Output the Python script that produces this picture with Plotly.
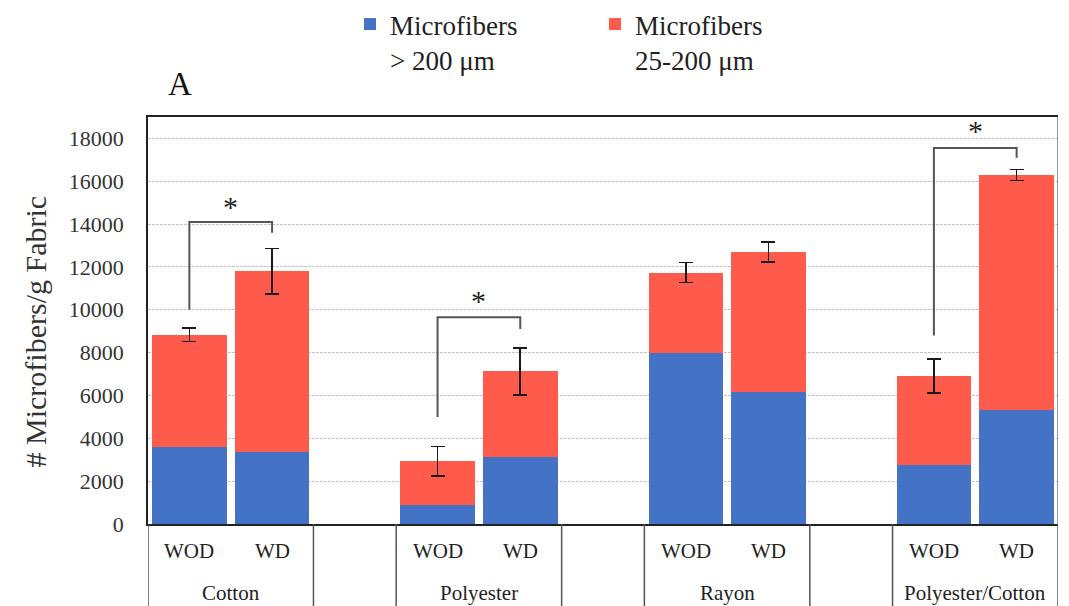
import plotly.graph_objects as go

# Category layout: two washing conditions per fabric, with an empty slot between fabrics
fabrics = ["Cotton", "Polyester", "Rayon", "Polyester/Cotton"]
conditions = ["WOD", "WD"]
slot_x = [0, 1, 3, 4, 6, 7, 9, 10]          # category slots holding bars
group_edges = [-0.5, 1.5, 2.5, 4.5, 5.5, 7.5, 8.5, 10.5]

# Microfibers per gram of fabric
large_fibers = [3580, 3370, 890, 3110, 7960, 6140, 2750, 5310]    # > 200 um
small_fibers = [5250, 8430, 2030, 4010, 3780, 6560, 4150, 10980]  # 25-200 um
total_err = [310, 1070, 690, 1100, 470, 470, 790, 260]

# Significance brackets: (left slot, right slot, left foot, top, right foot, star level)
brackets = [
    (0, 1, 10000, 14100, 13600, 15000),
    (3, 4, 5000, 9650, 9100, 10600),
    (9, 10, 8800, 17550, 17100, 18550),
]

SERIF = "Liberation Serif"
BLUE = "#4472C4"
RED = "#FF5B4C"

fig = go.Figure()
fig.add_trace(go.Bar(
    x=slot_x, y=large_fibers, name="Microfibers<br>> 200 μm",
    marker=dict(color=BLUE, line=dict(width=0)), width=0.9,
))
fig.add_trace(go.Bar(
    x=slot_x, y=small_fibers, name="Microfibers<br>25-200 μm",
    marker=dict(color=RED, line=dict(width=0)), width=0.9,
    error_y=dict(type="data", array=total_err, visible=True,
                 color="#1a1a1a", thickness=1.6, width=7),
))

# bracket lines and stars
for x0, x1, y0, ytop, y1, ystar in brackets:
    fig.add_trace(go.Scatter(
        x=[x0, x0, x1, x1], y=[y0, ytop, ytop, y1], mode="lines",
        line=dict(color="#555555", width=2), showlegend=False, hoverinfo="skip",
    ))
    fig.add_annotation(x=(x0 + x1) / 2, y=ystar, text="*", showarrow=False,
                       xref="x", yref="y", yanchor="middle", yshift=-4,
                       font=dict(family=SERIF, size=30, color="#222222"))

# multi-level category labels below the axis
for i, xv in enumerate(slot_x):
    fig.add_annotation(x=xv, y=-0.066, xref="x", yref="paper", text=conditions[i % 2],
                       showarrow=False, yanchor="middle",
                       font=dict(family=SERIF, size=21, color="#222222"))
for g, name in enumerate(fabrics):
    fig.add_annotation(x=(slot_x[2 * g] + slot_x[2 * g + 1]) / 2, y=-0.17,
                       xref="x", yref="paper", text=name, showarrow=False,
                       yanchor="middle",
                       font=dict(family=SERIF, size=21, color="#222222"))
for xe in group_edges:
    fig.add_shape(type="line", xref="x", yref="paper", x0=xe, x1=xe, y0=0, y1=-0.25,
                  line=dict(color="#555555", width=1.5))
# right frame edge
fig.add_shape(type="line", xref="x", yref="paper", x0=10.5, x1=10.5, y0=0, y1=1,
              line=dict(color="#777777", width=1.5))

# panel letter and axis title
fig.add_annotation(x=0.035, y=1.081, xref="paper", yref="paper", text="A",
                   showarrow=False, xanchor="center", yanchor="middle",
                   font=dict(family=SERIF, size=33, color="#111111"))
fig.add_annotation(x=-0.1231, y=0.473, xref="paper", yref="paper",
                   text="# Microfibers/g Fabric", textangle=-90, showarrow=False,
                   xanchor="center", yanchor="middle",
                   font=dict(family=SERIF, size=30, color="#333333"))

fig.update_layout(
    width=1069, height=606,
    margin=dict(l=148, r=11, t=117, b=82),
    paper_bgcolor="white", plot_bgcolor="white",
    barmode="stack", bargap=0.1,
    showlegend=True,
    legend=dict(orientation="h", x=0.222, xanchor="left", y=1.0, yref="container",
                yanchor="top", valign="top", entrywidth=200, itemwidth=30,
                traceorder="normal",
                font=dict(family=SERIF, size=27, color="#222222"),
                bgcolor="rgba(0,0,0,0)"),
    xaxis=dict(range=[-0.5, 10.5], showticklabels=False, showgrid=False,
               zeroline=False, showline=True, linecolor="#222222", linewidth=1.5,
               mirror=True, ticks=""),
    yaxis=dict(range=[0, 19000], dtick=2000, tick0=0, tickformat="d", showgrid=True,
               gridcolor="#C4C4C4", griddash="3px,1px", gridwidth=1,
               zeroline=False, showline=True, linecolor="#222222", linewidth=1.5,
               ticks="", ticklabelstandoff=18,
               tickfont=dict(family=SERIF, size=22, color="#333333")),
)

fig.write_html("out.html")
